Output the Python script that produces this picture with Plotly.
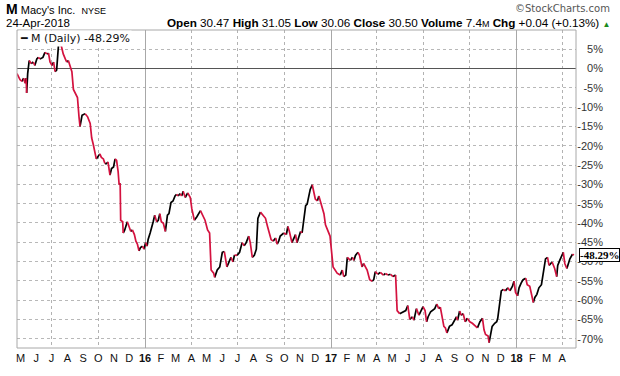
import plotly.graph_objects as go

# ---------------- data ----------------
dates = [
    "2015-04-24","2015-04-30","2015-05-04","2015-05-07","2015-05-10","2015-05-12","2015-05-13","2015-05-15",
    "2015-05-18","2015-05-22","2015-05-26","2015-05-29","2015-06-02","2015-06-05","2015-06-08","2015-06-14",
    "2015-06-18","2015-06-22","2015-06-25","2015-06-28","2015-07-02","2015-07-05","2015-07-08","2015-07-11",
    "2015-07-15","2015-07-18","2015-07-21","2015-07-24","2015-07-28","2015-07-31","2015-08-03","2015-08-07",
    "2015-08-10","2015-08-13","2015-08-16","2015-08-21","2015-08-24","2015-08-26","2015-08-30","2015-09-05",
    "2015-09-10","2015-09-15","2015-09-18","2015-09-21","2015-09-24","2015-09-27","2015-10-01","2015-10-04",
    "2015-10-07","2015-10-11","2015-10-14","2015-10-17","2015-10-20","2015-10-24","2015-10-27","2015-10-31",
    "2015-11-03","2015-11-06","2015-11-09","2015-11-11","2015-11-13","2015-11-14","2015-11-18","2015-11-19",
    "2015-11-22","2015-11-27","2015-12-01","2015-12-04","2015-12-07","2015-12-11","2015-12-14","2015-12-17",
    "2015-12-20","2015-12-23","2015-12-27","2015-12-30","2016-01-02","2016-01-05","2016-01-07","2016-01-11",
    "2016-01-14","2016-01-17","2016-01-20","2016-01-24","2016-01-27","2016-01-30","2016-02-02","2016-02-06",
    "2016-02-10","2016-02-14","2016-02-17","2016-02-21","2016-02-25","2016-02-29","2016-03-03","2016-03-06",
    "2016-03-10","2016-03-13","2016-03-16","2016-03-20","2016-03-25","2016-03-30","2016-04-02","2016-04-07",
    "2016-04-12","2016-04-19","2016-04-24","2016-04-28","2016-05-03","2016-05-07","2016-05-10","2016-05-15",
    "2016-05-17","2016-05-22","2016-05-27","2016-06-01","2016-06-05","2016-06-10","2016-06-13","2016-06-18",
    "2016-06-22","2016-06-25","2016-06-30","2016-07-05","2016-07-10","2016-07-14","2016-07-18","2016-07-23",
    "2016-07-26","2016-07-30","2016-08-03","2016-08-07","2016-08-10","2016-08-15","2016-08-20","2016-08-25",
    "2016-08-29","2016-09-02","2016-09-05","2016-09-09","2016-09-14","2016-09-17","2016-09-20","2016-09-23",
    "2016-09-30","2016-10-05","2016-10-08","2016-10-11","2016-10-16","2016-10-19","2016-10-23","2016-10-26",
    "2016-10-29","2016-11-02","2016-11-05","2016-11-08","2016-11-12","2016-11-15","2016-11-18","2016-11-21",
    "2016-11-25","2016-11-28","2016-12-01","2016-12-05","2016-12-08","2016-12-13","2016-12-18","2016-12-21",
    "2016-12-24","2016-12-27","2016-12-30","2017-01-05","2017-01-09","2017-01-13","2017-01-19","2017-01-23",
    "2017-01-26","2017-01-30","2017-02-02","2017-02-05","2017-02-08","2017-02-12","2017-02-15","2017-02-18",
    "2017-02-23","2017-02-26","2017-03-03","2017-03-06","2017-03-10","2017-03-13","2017-03-18","2017-03-23",
    "2017-03-26","2017-03-29","2017-04-03","2017-04-08","2017-04-14","2017-04-18","2017-04-23","2017-04-28",
    "2017-05-03","2017-05-08","2017-05-11","2017-05-16","2017-05-21","2017-05-28","2017-06-01","2017-06-05",
    "2017-06-10","2017-06-13","2017-06-18","2017-06-23","2017-06-28","2017-07-01","2017-07-05","2017-07-08",
    "2017-07-11","2017-07-16","2017-07-19","2017-07-24","2017-07-28","2017-08-01","2017-08-04","2017-08-08",
    "2017-08-11","2017-08-14","2017-08-17","2017-08-22","2017-08-27","2017-09-01","2017-09-05","2017-09-07",
    "2017-09-11","2017-09-14","2017-09-18","2017-09-22","2017-09-26","2017-10-01","2017-10-06","2017-10-10",
    "2017-10-16","2017-10-21","2017-10-26","2017-10-29","2017-11-01","2017-11-06","2017-11-08","2017-11-11",
    "2017-11-14","2017-11-19","2017-11-23","2017-11-25","2017-11-29","2017-12-02","2017-12-06","2017-12-10",
    "2017-12-15","2017-12-19","2017-12-24","2017-12-27","2017-12-30","2018-01-03","2018-01-06","2018-01-10",
    "2018-01-14","2018-01-19","2018-01-22","2018-01-27","2018-01-30","2018-02-03","2018-02-06","2018-02-10",
    "2018-02-14","2018-02-19","2018-02-23","2018-02-27","2018-03-03","2018-03-06","2018-03-09","2018-03-12",
    "2018-03-17","2018-03-21","2018-03-23","2018-03-27","2018-03-31","2018-04-03","2018-04-06","2018-04-10",
    "2018-04-12","2018-04-16","2018-04-21","2018-04-24",
]
pct_change = [
    -1.3,-2.9,-3.3,-2.5,-3.8,-2.5,-6.3,-1.3,
    2.1,1.3,1.7,0.8,2.5,2.9,2.5,2.9,
    4.2,3.8,4.0,1.7,0.8,1.7,-0.8,-0.4,
    6.7,7.1,5.0,3.8,2.5,1.7,2.1,0.4,
    -0.8,-5.4,-6.3,-7.5,-12.5,-15.0,-12.1,-11.7,
    -12.5,-14.2,-18.0,-19.6,-21.3,-23.4,-22.6,-22.1,
    -23.0,-23.4,-24.6,-24.6,-24.2,-27.6,-25.9,-25.5,
    -23.4,-23.8,-26.7,-30.1,-29.7,-39.3,-39.7,-42.6,
    -41.8,-39.7,-40.9,-42.2,-41.8,-43.0,-44.7,-45.5,
    -47.2,-46.4,-46.0,-46.8,-45.1,-46.0,-44.3,-42.6,
    -41.4,-39.7,-38.0,-39.7,-39.3,-37.6,-39.7,-40.1,
    -42.2,-38.0,-37.6,-34.7,-34.3,-33.0,-32.6,-33.0,
    -32.4,-33.0,-31.8,-33.4,-32.2,-33.4,-36.3,-39.3,
    -38.4,-36.8,-38.0,-39.3,-41.8,-42.6,-52.2,-53.0,
    -54.1,-52.2,-51.4,-47.6,-47.4,-51.4,-50.5,-48.9,
    -50.1,-48.3,-48.4,-47.6,-45.1,-45.9,-45.1,-43.4,
    -45.1,-48.9,-48.4,-46.8,-38.8,-37.2,-38.0,-38.8,
    -40.9,-42.6,-44.3,-44.7,-43.9,-45.5,-44.7,-43.4,
    -42.6,-43.0,-40.9,-42.2,-45.1,-44.3,-43.0,-45.1,
    -43.9,-42.2,-42.6,-40.1,-35.5,-35.1,-33.0,-31.3,
    -30.1,-31.8,-33.8,-34.3,-33.0,-35.5,-37.6,-40.5,
    -41.4,-42.6,-43.4,-51.4,-52.2,-53.0,-53.5,-52.2,
    -53.9,-53.5,-48.9,-49.3,-49.7,-48.9,-49.7,-48.4,
    -47.6,-48.4,-51.4,-50.5,-51.4,-52.2,-54.7,-55.1,
    -54.7,-52.6,-53.3,-52.8,-53.5,-53.1,-53.5,-53.3,
    -53.9,-53.5,-62.7,-63.5,-63.1,-62.7,-61.4,-65.0,
    -64.3,-65.2,-62.2,-63.9,-62.2,-61.7,-62.7,-65.6,
    -64.3,-63.0,-62.7,-62.2,-61.0,-62.2,-61.8,-64.3,
    -66.8,-67.2,-68.5,-66.8,-66.4,-65.2,-64.3,-65.2,
    -62.8,-63.9,-63.5,-65.6,-64.7,-65.6,-66.0,-66.4,
    -67.2,-65.6,-64.7,-67.7,-68.9,-69.3,-71.0,-68.5,
    -66.8,-66.0,-65.6,-64.7,-61.0,-57.6,-57.2,-57.6,
    -56.8,-57.6,-56.4,-55.1,-58.0,-58.9,-56.8,-55.6,
    -54.7,-54.3,-56.0,-56.4,-58.5,-60.6,-59.3,-58.5,
    -56.8,-56.0,-52.6,-49.3,-48.9,-51.0,-50.5,-50.1,
    -51.8,-53.9,-51.0,-49.7,-48.4,-47.6,-50.5,-51.8,
    -51.0,-49.3,-48.1,-48.29,
]

month_ticks = ["2015-05-01","2015-06-01","2015-07-01","2015-08-01","2015-09-01","2015-10-01","2015-11-01","2015-12-01",
               "2016-01-01","2016-02-01","2016-03-01","2016-04-01","2016-05-01","2016-06-01","2016-07-01","2016-08-01",
               "2016-09-01","2016-10-01","2016-11-01","2016-12-01","2017-01-01","2017-02-01","2017-03-01","2017-04-01",
               "2017-05-01","2017-06-01","2017-07-01","2017-08-01","2017-09-01","2017-10-01","2017-11-01","2017-12-01",
               "2018-01-01","2018-02-01","2018-03-01","2018-04-01"]
month_labels = ["M","J","J","A","S","O","N","D","<b>16</b>","F","M","A","M","J","J","A",
                "S","O","N","D","<b>17</b>","F","M","A","M","J","J","A","S","O","N","D",
                "<b>18</b>","F","M","A"]
quarter_grid = ["2015-07-01","2015-10-01","2016-04-01","2016-07-01","2016-10-01",
                "2017-04-01","2017-07-01","2017-10-01","2018-04-01"]
year_grid = ["2016-01-01","2017-01-01","2018-01-01"]
y_ticks = [5, 0, -5, -10, -15, -20, -25, -30, -35, -40, -45, -50, -55, -60, -65, -70]
y_labels = ["5%", "0%", "-5%", "-10%", "-15%", "-20%", "-25%", "-30%", "-35%", "-40%", "-45%",
            "-50%", "-55%", "-60%", "-65%", "-70%"]
last_value = -48.29

# ---------------- layout geometry ----------------
W, H = 620, 376
ML, MR, MT, MB = 17, 14, 30, 17
PW, PH = W - ML - MR, H - MT - MB
PLOT_RIGHT = 576
xdom_end = (PLOT_RIGHT - ML) / PW

def px(xp):
    return (xp - ML) / PW

def py(yp):
    return (H - MB - yp) / PH

RED = "#d4123f"
BLACK = "#000000"

# split into up (black) / down (red) runs
black_x, black_y, red_x, red_y = [], [], [], []
i = 0
n = len(dates)
while i < n - 1:
    up = pct_change[i + 1] >= pct_change[i]
    j = i
    while j < n - 1 and (pct_change[j + 1] >= pct_change[j]) == up:
        j += 1
    seg_x = dates[i:j + 1]
    seg_y = pct_change[i:j + 1]
    if up:
        black_x += seg_x + [None]
        black_y += seg_y + [None]
    else:
        red_x += seg_x + [None]
        red_y += seg_y + [None]
    i = j

fig = go.Figure()
fig.add_trace(go.Scatter(x=black_x, y=black_y, mode="lines", xaxis="x", yaxis="y",
                         line=dict(color=BLACK, width=1.7), showlegend=False, hoverinfo="skip"))
fig.add_trace(go.Scatter(x=red_x, y=red_y, mode="lines", xaxis="x2", yaxis="y",
                         line=dict(color=RED, width=1.7), showlegend=False, hoverinfo="skip"))
fig.add_trace(go.Scatter(x=[dates[-1]], y=[None], mode="lines", xaxis="x3", yaxis="y",
                         showlegend=False, hoverinfo="skip"))

xrange = ["2015-04-24", "2018-04-28"]
common_x = dict(type="date", range=xrange, domain=[0, xdom_end], anchor="y", fixedrange=True,
                showline=False, zeroline=False, ticks="")
fig.update_layout(
    width=W, height=H,
    margin=dict(l=ML, r=MR, t=MT, b=MB, pad=0),
    paper_bgcolor="white", plot_bgcolor="white",
    showlegend=False,
    font=dict(family="Liberation Sans, Arial, sans-serif", size=11, color="#222"),
    xaxis=dict(**common_x, tickmode="array", tickvals=quarter_grid, showticklabels=False,
               showgrid=True, gridcolor="#b2b2b2", griddash="dot", gridwidth=1),
    xaxis2=dict(**common_x, overlaying="x", side="bottom", tickmode="array",
                tickvals=month_ticks, ticktext=month_labels, showgrid=False,
                tickfont=dict(family="Liberation Sans, Arial, sans-serif", size=11, color="#111"),
                ticklabelstandoff=2),
    xaxis3=dict(**common_x, overlaying="x", tickmode="array", tickvals=year_grid,
                showticklabels=False, showgrid=True, gridcolor="#a8a8a8", gridwidth=1),
    yaxis=dict(range=[-72.4, 10.0], anchor="free", position=1.0, side="left",
               tickmode="array", tickvals=y_ticks, ticktext=y_labels, ticks="",
               showgrid=True, gridcolor="#b8b8b8", griddash="dot", gridwidth=1,
               zeroline=True, zerolinecolor="#555555", zerolinewidth=1,
               showline=False, fixedrange=True,
               tickfont=dict(family="Liberation Sans, Arial, sans-serif", size=11, color="#333"),
               ticklabelstandoff=3),
)

# plot frame
fig.add_shape(type="rect", xref="x domain", yref="y domain", x0=0, x1=1, y0=0, y1=1,
              line=dict(color="#a8a8a8", width=1), fillcolor="rgba(0,0,0,0)", layer="above")

# legend box (top-left inside plot)
fig.add_annotation(xref="paper", yref="paper", x=px(17.5), y=py(30.5), xanchor="left", yanchor="top",
                   text="<b>━</b> M (Daily) -48.29%", showarrow=False, bgcolor="white",
                   borderpad=1, font=dict(family="DejaVu Sans", size=11, color="#111"))

# last value tag
fig.add_annotation(xref="paper", yref="y", x=px(579), y=last_value, xanchor="left", yanchor="middle",
                   text="<b>-48.29%</b>", showarrow=False, bgcolor="white",
                   bordercolor="#000", borderwidth=1, borderpad=0,
                   font=dict(family="Liberation Serif, Times New Roman, serif", size=11, color="#000"))

# header texts
fig.add_annotation(xref="paper", yref="paper", x=px(4), y=py(8.5), xanchor="left", yanchor="middle",
                   text="<span style='font-size:14px'><b>M</b></span> Macy's Inc.  <span style='font-size:9px'>NYSE</span>",
                   showarrow=False, font=dict(family="Liberation Sans, Arial", size=11, color="#000"))
fig.add_annotation(xref="paper", yref="paper", x=px(612), y=py(8), xanchor="right", yanchor="middle",
                   text="©StockCharts.com", showarrow=False,
                   font=dict(family="DejaVu Sans", size=10, color="#555"))
fig.add_annotation(xref="paper", yref="paper", x=px(4), y=py(22.5), xanchor="left", yanchor="middle",
                   text="24-Apr-2018", showarrow=False,
                   font=dict(family="Liberation Sans, Arial", size=11.5, color="#000"))
fig.add_annotation(xref="paper", yref="paper", x=px(612), y=py(22.5), xanchor="right", yanchor="middle",
                   text=("<b>Open</b> 30.47 <b>High</b> 31.05 <b>Low</b> 30.06 <b>Close</b> 30.50 "
                         "<b>Volume</b> 7.4<span style='font-size:9px'>M</span> <b>Chg</b> +0.04 (+0.13%) "
                         "<span style='font-size:8px;color:#1a8a1a'>▲</span>"),
                   showarrow=False, font=dict(family="Liberation Sans, Arial", size=11.7, color="#000"))

fig.write_html("out.html", config={"displayModeBar": False},
               post_script="document.body.style.margin='0px';")
